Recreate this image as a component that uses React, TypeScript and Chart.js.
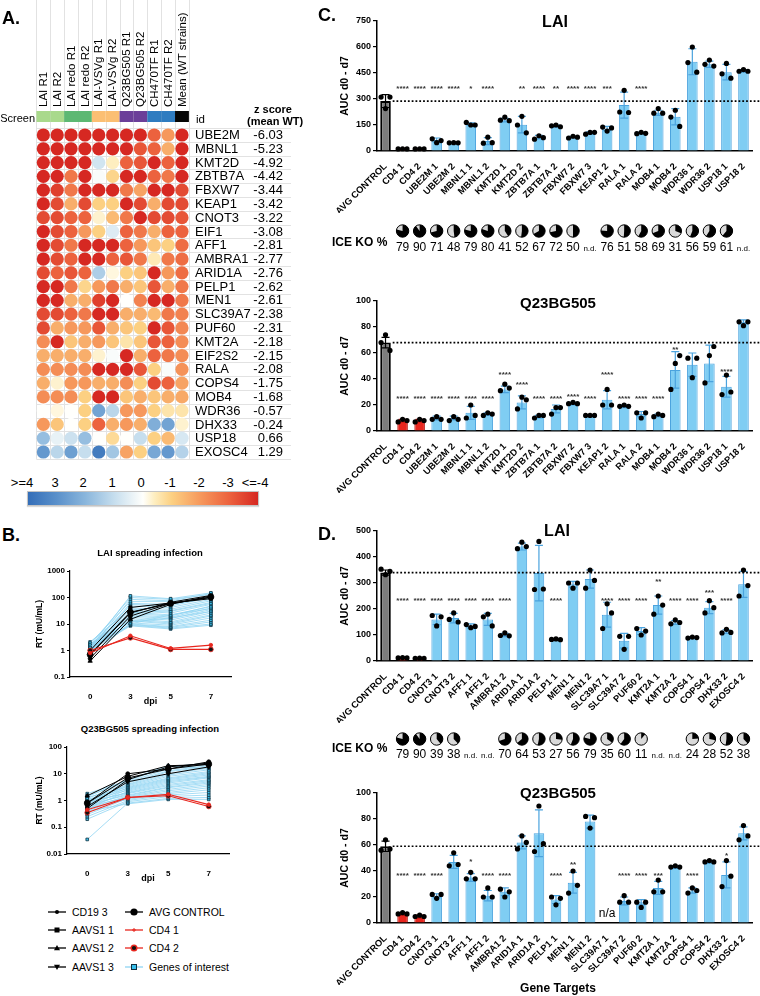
import React, { useEffect, useRef } from 'react';
import { Chart, registerables } from 'chart.js';

Chart.register(...registerables);
const FONT = '"Liberation Sans", Arial, Helvetica, sans-serif';
Chart.defaults.font.family = FONT;
Chart.defaults.color = '#000';

// ---------------- Panel A data ----------------
const HM_COLUMNS = ['LAI R1', 'LAI R2', 'LAI redo R1', 'LAI redo R2', 'LAI-VSVg R1', 'LAI-VSVg R2', 'Q23BG505 R1', 'Q23BG505 R2', 'CH470TF R1', 'CH470TF R2', 'Mean (WT strains)'];
const HM_GENES = ['UBE2M', 'MBNL1', 'KMT2D', 'ZBTB7A', 'FBXW7', 'KEAP1', 'CNOT3', 'EIF1', 'AFF1', 'AMBRA1', 'ARID1A', 'PELP1', 'MEN1', 'SLC39A7', 'PUF60', 'KMT2A', 'EIF2S2', 'RALA', 'COPS4', 'MOB4', 'WDR36', 'DHX33', 'USP18', 'EXOSC4'];
const HM_ZSCORE = [-6.03, -5.23, -4.92, -4.42, -3.44, -3.42, -3.22, -3.08, -2.81, -2.77, -2.76, -2.62, -2.61, -2.38, -2.31, -2.18, -2.15, -2.08, -1.75, -1.68, -0.57, -0.24, 0.66, 1.29];
const HM_Z = [
  [-4, -4, -4, -4, -4, -4, -4, -4, -3, -2, -4],
  [-4, -4, -4, -4, -4, -4, -4, -3.2, -3, -1.6, -4],
  [-4, -4, -4, -4, 0.8, -0.4, -3, -3.2, -4, -3, -4],
  [-4, -4, -2.6, -4, 0.1, -0.9, -4, -4, -3, -2.6, -4],
  [-4, -3.6, -2.6, -4, -4, -4, -2.6, -1.8, -4, -4, -3.4],
  [-4, -3.4, -1.6, -3.4, -1, -1, -4, -3.4, -1.6, -3.4, -3.4],
  [-3.4, -3.4, -3, -3, -0.3, -1.4, -2.6, -4, -3.4, -3.4, -3.2],
  [-4, -3.4, -3, -2, -1, 0.6, -3, -2.6, -1.6, -3, -3],
  [-4, -3.4, -2.6, -4, -4, -4, -3, -2, -1.2, -1, -2.8],
  [-4, -3.4, -3, -4, -4, -3, -3.2, -2.6, -0.5, -2.6, -2.8],
  [-3.4, -3, -3.2, -3, 1.4, -0.2, -1, -1.2, -4, -2, -2.8],
  [-4, -4, -2.6, -0.9, -2, -2.6, -1.6, -1.2, -3.2, -1.6, -2.6],
  [-4, -4, -1.6, -1.6, -3.6, -4, 0, -2.4, -4, -4, -2.6],
  [-3.4, -3.4, -3, -2.6, -4, -4, -1.6, -1.6, -1.4, -2.6, -2.4],
  [-3.4, -1.6, -2, -2, -3.2, -1.6, -1.2, -1, -4, -3.2, -2.3],
  [-2.2, -4, -1.2, -1.6, -2, -1.2, -0.6, -1.2, -3.2, -3, -2.2],
  [-1.6, -1.6, -1.6, -1.6, -0.3, 0.1, -4, -1.6, -3, -2.6, -2.2],
  [-2.2, -2.2, -2.2, -2.2, -4, -4, -4, -3.2, -1, 0.1, -2.1],
  [-1.6, -0.3, -2, -2, -1.6, -1.6, -2.2, -1, -3.4, -3, -1.8],
  [-2.2, -2.2, -2.2, -1, -4, -4, -1.2, -1.6, -1.2, -1.6, -1.7],
  [0, -0.2, 0, -1, 2.5, 1.2, -2, -2, -1, -0.6, -0.6],
  [-2, -1.2, 0, -1, -3, -1.6, -2, -1.6, 2.2, 2.5, -0.3],
  [1.8, 0.4, 0.9, 1.8, 0, -0.8, 0, 1, -1, -1.4, 0.7],
  [2.8, 1.2, 2.6, 1, 3.6, 1.6, -1.8, -1, 2.4, 2.8, 1.3],
];
const CBAR_LABELS = ['>=4', '3', '2', '1', '0', '-1', '-2', '-3', '<=-4'];

// ---------------- Panel B data ----------------
const B_DAYS = ['0', '3', '5', '7'];
const LAI_CD19_3 = [0.5, 20, 60, 100];
const LAI_AAVS1_1 = [1.0, 42, 62, 90];
const LAI_AAVS1_2 = [0.4, 15, 55, 115];
const LAI_AAVS1_3 = [0.7, 26, 66, 120];
const LAI_AVG_CONTROL = [0.7, 28, 60, 105];
const LAI_CD4_1 = [0.8, 3.6, 1.2, 1.6];
const LAI_CD4_2 = [1.0, 3.0, 1.1, 1.1];
const LAI_GENES = [
  [1.3, 115, 90, 150], [1.6, 100, 85, 130], [1.1, 85, 75, 140], [1.9, 70, 70, 110], [1.2, 60, 55, 95],
  [0.9, 55, 48, 100], [1.5, 48, 42, 85], [1.0, 40, 36, 75], [2.1, 36, 30, 60], [1.4, 32, 26, 55],
  [0.8, 28, 22, 45], [1.7, 25, 20, 48], [1.2, 22, 18, 40], [1.0, 20, 16, 35], [1.5, 18, 14, 30],
  [0.9, 16, 12, 26], [1.3, 14, 11, 22], [1.1, 13, 10, 20], [1.8, 11, 9, 17], [0.7, 10, 8, 14],
  [1.4, 9.5, 7.5, 12], [1.2, 9, 7, 10], [1.0, 8.5, 6.5, 9], [1.6, 12, 17, 30], [1.3, 26, 32, 65],
  [1.1, 10, 22, 38],
];
const Q23_CD19_3 = [0.8, 10, 15, 28];
const Q23_AAVS1_1 = [0.5, 6, 18, 25];
const Q23_AAVS1_2 = [1.5, 8, 20, 22];
const Q23_AAVS1_3 = [0.6, 5, 10, 18];
const Q23_AVG_CONTROL = [0.8, 7, 15, 23];
const Q23_CD4_1 = [0.45, 1.3, 1.7, 0.7];
const Q23_CD4_2 = [0.35, 1.3, 1.5, 0.6];
const Q23_GENES = [
  [1.8, 5.5, 18, 25], [1.5, 5, 15, 22], [1.2, 4.5, 13, 20], [1.0, 4, 12, 18], [0.9, 3.8, 10, 16],
  [0.8, 3.5, 9, 14], [1.3, 3.2, 8, 12], [0.7, 3, 7, 11], [1.1, 2.8, 6.5, 10], [0.6, 2.6, 6, 9],
  [1.0, 2.4, 5.5, 8], [0.5, 2.2, 5, 7.5], [0.8, 2.0, 4.5, 7], [0.9, 1.9, 4, 6], [0.6, 1.8, 3.6, 5.5],
  [0.7, 1.6, 3.2, 5], [0.5, 1.5, 3, 4.5], [0.4, 1.4, 2.6, 4], [0.6, 1.3, 2.3, 3.5], [0.3, 1.2, 2, 3],
  [0.5, 1.1, 1.8, 2.5], [0.25, 1.0, 1.6, 2], [0.2, 0.9, 1.4, 1.6], [0.035, 0.8, 1.2, 1.3], [0.4, 0.75, 1.1, 1.1],
  [1.4, 6, 20, 15],
];

// ---------------- Panel C data ----------------
const C_LABELS = ['AVG CONTROL', 'CD4 1', 'CD4 2', 'UBE2M 1', 'UBE2M 2', 'MBNL1 1', 'MBNL1 2', 'KMT2D 1', 'KMT2D 2', 'ZBTB7A 1', 'ZBTB7A 2', 'FBXW7 2', 'FBXW7 3', 'KEAP1 2', 'RALA 1', 'RALA 2', 'MOB4 1', 'MOB4 2', 'WDR36 1', 'WDR36 2', 'USP18 1', 'USP18 2'];
const C_ICE = [null, 79, 90, 71, 48, 79, 80, 41, 52, 67, 72, 50, 'n.d.', 76, 51, 58, 69, 31, 56, 59, 61, 'n.d.'];
const C_LAI_MEAN = [288, 12, 12, 63, 48, 155, 57, 178, 152, 80, 143, 80, 105, 130, 265, 103, 220, 198, 515, 500, 455, 462];
const C_LAI_REP1 = [311, 12, 12, 70, 47, 165, 45, 178, 150, 68, 145, 75, 97, 138, 225, 100, 218, 196, 510, 500, 445, 460];
const C_LAI_REP2 = [245, 13, 13, 48, 48, 150, 80, 195, 200, 88, 150, 85, 107, 115, 350, 108, 245, 235, 600, 525, 505, 470];
const C_LAI_REP3 = [311, 12, 12, 60, 47, 150, 48, 175, 105, 77, 140, 80, 108, 133, 222, 102, 218, 142, 455, 490, 420, 460];
const C_LAI_SD = [37, 2, 2, 12, 2, 8, 20, 10, 48, 10, 6, 5, 6, 12, 75, 4, 15, 47, 75, 18, 45, 7];
const C_LAI_STARS = ['', '****', '****', '****', '****', '*', '****', '', '**', '****', '**', '****', '****', '***', '', '****', '', '', '', '', '', ''];
const C_LAI_STAR_Y = [0, 368, 368, 368, 368, 368, 368, 0, 368, 368, 368, 368, 368, 368, 0, 368, 0, 0, 0, 0, 0, 0];

const C_Q23_MEAN = [68, 8, 8, 10, 10, 14, 13, 32, 22, 11, 17, 21, 12, 24, 19, 13, 12, 47, 51, 52, 34, 84];
const C_Q23_REP1 = [68, 7, 7, 9, 8, 10, 12, 31, 17, 10, 13, 21, 12, 20, 19, 14, 11, 32, 56, 37, 28, 84];
const C_Q23_REP2 = [74, 9, 9, 11, 11, 20, 14, 36, 26, 12, 18, 22, 12, 32, 20, 10, 13, 52, 41, 58, 43, 81];
const C_Q23_REP3 = [62, 8, 8, 9, 9, 12, 13, 33, 24, 12, 18, 21, 12, 20, 19, 14, 12, 58, 56, 65, 30, 84];
const C_Q23_SD = [4, 1, 1, 1.5, 1.5, 5, 1, 2.5, 5, 1, 3, 1, 0.5, 7, 1, 2, 1, 14, 9, 14, 8, 1.5];
const C_Q23_STARS = ['', '****', '****', '****', '****', '****', '****', '****', '****', '****', '****', '****', '****', '****', '****', '****', '****', '**', '', '', '****', ''];
const C_Q23_STAR_Y = [0, 26, 26, 26, 26, 26, 26, 45, 37, 26, 26, 28, 26, 45, 26, 26, 26, 64, 0, 0, 47, 0];

// ---------------- Panel D data ----------------
const D_LABELS = ['AVG CONTROL', 'CD4 1', 'CD4 2', 'CNOT3 1', 'CNOT3 2', 'AFF1 1', 'AFF1 2', 'AMBRA1 2', 'ARID1A 1', 'ARID1A 2', 'PELP1 1', 'MEN1 1', 'MEN1 2', 'SLC39A7 1', 'SLC39A7 2', 'PUF60 2', 'KMT2A 1', 'KMT2A 2', 'COPS4 1', 'COPS4 2', 'DHX33 2', 'EXOSC4 2'];
const D_ICE = [null, 79, 90, 39, 38, 'n.d.', 'n.d.', 70, 64, 53, 27, 56, 79, 35, 60, 11, 'n.d.', 'n.d.', 24, 28, 52, 38];
const D_LAI_MEAN = [340, 12, 10, 160, 165, 135, 160, 100, 440, 338, 83, 295, 315, 178, 78, 115, 215, 148, 90, 205, 113, 295];
const D_LAI_REP1 = [353, 12, 10, 175, 160, 140, 170, 98, 432, 275, 83, 300, 280, 125, 95, 125, 180, 143, 88, 185, 108, 250];
const D_LAI_REP2 = [332, 13, 11, 135, 185, 128, 180, 108, 457, 460, 85, 280, 350, 220, 45, 100, 250, 158, 92, 232, 122, 350];
const D_LAI_REP3 = [345, 12, 10, 170, 150, 133, 135, 97, 440, 277, 82, 300, 310, 185, 95, 115, 215, 148, 90, 205, 110, 290];
const D_LAI_SD = [10, 1, 1, 20, 18, 8, 23, 6, 13, 107, 2, 11, 35, 48, 28, 13, 35, 7, 2, 23, 7, 50];
const D_LAI_STARS = ['', '****', '****', '****', '****', '****', '****', '****', '', '', '****', '', '', '****', '****', '****', '**', '****', '****', '***', '****', ''];
const D_LAI_STAR_Y = [0, 238, 238, 238, 238, 238, 238, 238, 0, 0, 238, 0, 0, 238, 238, 238, 313, 238, 238, 270, 238, 0];

const D_Q23_MEAN = [59, 7, 5, 21, 47, 35, 21, 24, 62, 69, 18, 31, 78, null, 17, 16, 27, 43, 25, 47, 37, 69];
const D_Q23_REP1 = [56, 7, 5, 22, 44, 34, 20, 26, 57, 55, 20, 23, 82, null, 16, 16, 24, 43, 23, 47, 28, 64];
const D_Q23_REP2 = [64, 8, 6, 19, 54, 39, 27, 20, 67, 90, 14, 40, 73, null, 21, 12, 33, 44, 27, 48, 48, 75];
const D_Q23_REP3 = [57, 7, 5, 22, 45, 34, 20, 24, 62, 61, 19, 29, 81, null, 16, 16, 24, 43, 25, 47, 36, 67];
const D_Q23_SD = [4, 1, 1, 1.5, 5, 3, 4, 3, 5, 18, 3, 8, 5, 0, 3, 2, 5, 1, 2, 1, 10, 5];
const D_Q23_STARS = ['', '****', '****', '****', '', '*', '****', '****', '', '', '****', '**', '', 'n/a', '****', '****', '***', '', '****', '', '*', ''];
const D_Q23_STAR_Y = [0, 38, 38, 38, 0, 49, 38, 38, 0, 0, 38, 46, 0, 7.5, 38, 38, 38, 0, 38, 0, 53, 0];

// ---------------- helpers ----------------
const Z_STOPS: any[] = [
  [-4, [214, 40, 34]], [-3, [236, 98, 62]], [-2, [246, 152, 92]], [-1, [252, 208, 130]],
  [-0.4, [254, 238, 192]], [0, [255, 255, 252]], [1, [198, 222, 238]], [2, [138, 182, 220]],
  [3, [90, 144, 202]], [4, [52, 110, 184]],
];
function zColor(z: number) {
  const v = Math.max(-4, Math.min(4, z));
  for (let i = 0; i < Z_STOPS.length - 1; i++) {
    const [a, ca] = Z_STOPS[i];
    const [b, cb] = Z_STOPS[i + 1];
    if (v >= a && v <= b) {
      const t = (v - a) / (b - a);
      const c = ca.map((x: number, k: number) => Math.round(x + (cb[k] - x) * t));
      return `rgb(${c[0]},${c[1]},${c[2]})`;
    }
  }
  return '#fff';
}
const CBAR_GRADIENT = 'linear-gradient(to right,' + Z_STOPS.slice().reverse().map((s: any) => `${zColor(s[0])} ${((4 - s[0]) / 8) * 100}%`).join(',') + ')';
const SCREEN_COLORS = ['#a9d98c', '#a9d98c', '#5db873', '#5db873', '#fbbf73', '#fbbf73', '#6b3f99', '#6b3f99', '#2f7cc0', '#2f7cc0', '#050505'];

function ChartBox({ left, top, width, height, build }: any) {
  const ref = useRef<HTMLCanvasElement>(null);
  useEffect(() => {
    const chart = build(ref.current);
    return () => chart.destroy();
  }, []);
  return <canvas ref={ref} width={width} height={height} style={{ position: 'absolute', left, top, width, height }} />;
}

function T({ x, y, size = 11, bold = false, align = 'left', children }: any) {
  const tx = align === 'center' ? '-50%' : align === 'right' ? '-100%' : '0';
  return (
    <div style={{ position: 'absolute', left: x, top: y, transform: `translate(${tx},-50%)`, fontSize: size, fontWeight: bold ? 700 : 400, whiteSpace: 'nowrap', lineHeight: 1, fontFamily: FONT, color: '#000' }}>
      {children}
    </div>
  );
}

// ---------------- heatmap ----------------
function buildHeatmap(canvas: HTMLCanvasElement) {
  const W = 300, H = 465;
  const pts: any[] = [];
  const cols: string[] = [];
  HM_Z.forEach((row, r) => row.forEach((v, c) => { pts.push({ x: c, y: r }); cols.push(zColor(v)); }));
  const plugin = {
    id: 'hm',
    beforeDatasetsDraw(chart: any) {
      const { ctx, chartArea: a, scales } = chart;
      const x = scales.x, y = scales.y;
      ctx.save();
      ctx.strokeStyle = '#e2e2e2';
      ctx.lineWidth = 1;
      for (let c = 0; c <= HM_COLUMNS.length; c++) {
        const px = Math.round(x.getPixelForValue(c - 0.5)) + 0.5;
        ctx.beginPath(); ctx.moveTo(px, 0); ctx.lineTo(px, a.bottom); ctx.stroke();
      }
      for (let r = 0; r <= HM_GENES.length; r++) {
        const py = Math.round(y.getPixelForValue(r - 0.5)) + 0.5;
        ctx.beginPath(); ctx.moveTo(a.left, py); ctx.lineTo(291, py); ctx.stroke();
      }
      HM_COLUMNS.forEach((_, c) => {
        const x0 = x.getPixelForValue(c - 0.5), x1 = x.getPixelForValue(c + 0.5);
        ctx.fillStyle = SCREEN_COLORS[c];
        ctx.fillRect(x0, 111, x1 - x0, 11);
      });
      ctx.fillStyle = '#000';
      ctx.font = `11.5px ${FONT}`;
      ctx.textBaseline = 'middle';
      ctx.textAlign = 'left';
      HM_COLUMNS.forEach((t, c) => {
        ctx.save();
        ctx.translate(x.getPixelForValue(c) + 0.5, 107);
        ctx.rotate(-Math.PI / 2);
        ctx.fillText(t, 0, 0);
        ctx.restore();
      });
      ctx.restore();
    },
    afterDraw(chart: any) {
      const { ctx, scales } = chart;
      const y = scales.y;
      ctx.save();
      ctx.fillStyle = '#000';
      ctx.font = `13px ${FONT}`;
      ctx.textBaseline = 'middle';
      HM_GENES.forEach((g, r) => {
        const py = y.getPixelForValue(r);
        ctx.textAlign = 'left';
        ctx.fillText(g, 195, py + 0.5);
        ctx.textAlign = 'right';
        ctx.fillText(HM_ZSCORE[r].toFixed(2), 283, py + 0.5);
      });
      ctx.restore();
    },
  };
  return new Chart(canvas, {
    type: 'scatter',
    data: { datasets: [{ data: pts, pointRadius: 6.6, pointHoverRadius: 6.6, backgroundColor: cols, borderWidth: 0, clip: false } as any] },
    options: {
      animation: false, responsive: false, events: [],
      layout: { autoPadding: false, padding: { left: 36.4, right: W - 188.9, top: 128.1, bottom: H - 458.9 } },
      scales: {
        x: { type: 'linear', display: false, min: -0.5, max: 10.5 },
        y: { type: 'linear', display: false, min: -0.5, max: 23.5, reverse: true },
      },
      plugins: { legend: { display: false }, tooltip: { enabled: false } },
    } as any,
    plugins: [plugin],
  });
}

// ---------------- spreading infection lines ----------------
function lineDs(data: number[], color: string, width: number, style: string, r: number, bg: string, border: string, rot = 0) {
  return { data, borderColor: color, borderWidth: width, pointStyle: style, pointRadius: r, pointHoverRadius: r, pointBackgroundColor: bg, pointBorderColor: border, pointBorderWidth: 0.8, pointRotation: rot, clip: false, tension: 0, fill: false };
}
function buildSpread(canvas: HTMLCanvasElement, spec: any) {
  const { W, H, left, right, top, bottom, min, max, ticks, controls, cd4, genes } = spec;
  const padL = 31;
  const datasets: any[] = [];
  datasets.push(lineDs(cd4[0], '#e8261e', 1.1, 'circle', 1.8, '#e8261e', '#e8261e'));
  datasets.push(lineDs(cd4[1], '#e8261e', 1.1, 'circle', 2.4, '#111', '#e8261e'));
  datasets.push(lineDs(controls[4], '#000', 1.1, 'circle', 3, '#000', '#000'));
  datasets.push(lineDs(controls[0], '#000', 1, 'circle', 2, '#000', '#000'));
  datasets.push(lineDs(controls[1], '#000', 1, 'rect', 2.2, '#000', '#000'));
  datasets.push(lineDs(controls[2], '#000', 1, 'triangle', 2.5, '#000', '#000'));
  datasets.push(lineDs(controls[3], '#000', 1, 'triangle', 2.5, '#000', '#000', 180));
  genes.forEach((g: number[]) => datasets.push(lineDs(g, '#8fd4f3', 0.8, 'rect', 1.9, '#38c0ec', '#10303f')));
  return new Chart(canvas, {
    type: 'line',
    data: { labels: B_DAYS, datasets },
    options: {
      animation: false, responsive: false, events: [],
      layout: { autoPadding: false, padding: { left: padL, right: W - right, top, bottom: H - bottom - 30 } },
      scales: {
        x: {
          type: 'category', offset: true, grid: { display: false },
          border: { display: true, color: '#000', width: 1.2 },
          ticks: { font: { size: 8, weight: 'bold' }, color: '#000', padding: 7 },
          title: { display: true, text: 'dpi', font: { size: 9, weight: 'bold' }, color: '#000', padding: 0 },
          afterFit: (s: any) => { s.height = 30; },
        },
        y: {
          type: 'logarithmic', min, max,
          afterBuildTicks: (s: any) => { s.ticks = ticks.map((v: number) => ({ value: v })); },
          ticks: { callback: (v: any) => String(v), font: { size: 8, weight: 'bold' }, color: '#000', padding: 2 },
          grid: { drawOnChartArea: false, tickLength: 3, color: '#000' },
          border: { display: true, color: '#000', width: 1.2 },
          title: { display: true, text: 'RT (mU/mL)', font: { size: 8.5, weight: 'bold' }, color: '#000' },
          afterFit: (s: any) => { s.width = left - padL; },
        },
      },
      plugins: { legend: { display: false }, tooltip: { enabled: false } },
    } as any,
  });
}

// ---------------- bar charts ----------------
function buildBars(canvas: HTMLCanvasElement, spec: any) {
  const { labels, means, reps, sd, stars, starY, yMax, yStep, ice, W, H, top, bottom, pieY, numY } = spec;
  const n = labels.length;
  const AREA_LEFT = 77, AREA_RIGHT = 452, PAD_L = 35, X_H = 62;
  const fill = labels.map((l: string, i: number) => (i === 0 ? '#7d7d7d' : l.startsWith('CD4') ? '#e8261e' : '#7fcdf3'));
  const edge = labels.map((l: string, i: number) => (i === 0 ? '#000' : l.startsWith('CD4') ? '#b3120c' : '#4ba3de'));
  const barPts: any[] = [];
  const barFill: string[] = [];
  const barEdge: string[] = [];
  const barBW: number[] = [];
  means.forEach((m: any, i: number) => {
    if (m == null) return;
    barPts.push({ x: i, y: m });
    barFill.push(fill[i]); barEdge.push(edge[i]); barBW.push(i === 0 ? 2 : 1);
  });
  const offs = [-0.26, 0, 0.26];
  const dots: any[] = [];
  reps.forEach((rep: any[], k: number) => rep.forEach((v: any, i: number) => { if (v != null) dots.push({ x: i + offs[k], y: v }); }));
  const plugin = {
    id: 'extras',
    afterDatasetDraw(chart: any, args: any) {
      if (args.index !== 0) return;
      const { ctx, scales } = chart;
      const x = scales.x, y = scales.y;
      ctx.save();
      ctx.lineWidth = 1.2;
      means.forEach((m: any, i: number) => {
        if (m == null || !sd[i]) return;
        const px = x.getPixelForValue(i);
        const y1 = y.getPixelForValue(m + sd[i]);
        const y0 = y.getPixelForValue(Math.max(0, m - sd[i]));
        ctx.strokeStyle = edge[i];
        ctx.beginPath();
        ctx.moveTo(px, y0); ctx.lineTo(px, y1);
        ctx.moveTo(px - 4, y1); ctx.lineTo(px + 4, y1);
        ctx.moveTo(px - 4, y0); ctx.lineTo(px + 4, y0);
        ctx.stroke();
      });
      ctx.restore();
    },
    afterDatasetsDraw(chart: any) {
      const { ctx, scales } = chart;
      const x = scales.x, y = scales.y;
      ctx.save();
      const ly = y.getPixelForValue(means[0]);
      ctx.strokeStyle = '#000';
      ctx.lineWidth = 1.6;
      ctx.setLineDash([1.8, 2]);
      ctx.beginPath(); ctx.moveTo(x.getPixelForValue(0.42), ly); ctx.lineTo(W, ly); ctx.stroke();
      ctx.setLineDash([]);
      ctx.textAlign = 'center';
      ctx.textBaseline = 'middle';
      stars.forEach((s: string, i: number) => {
        if (!s) return;
        const px = x.getPixelForValue(i);
        if (s === 'n/a') {
          ctx.fillStyle = '#000';
          ctx.font = `12px ${FONT}`;
          ctx.fillText(s, px, y.getPixelForValue(starY[i]));
        } else {
          ctx.fillStyle = '#333';
          ctx.font = `bold 8px ${FONT}`;
          ctx.fillText(s, px, y.getPixelForValue(starY[i]) + 2);
        }
      });
      if (ice) {
        ice.forEach((v: any, i: number) => {
          if (v == null) return;
          const px = x.getPixelForValue(i);
          ctx.fillStyle = '#000';
          if (typeof v === 'string') {
            ctx.font = `8px ${FONT}`;
            ctx.fillText(v, px, numY + 1);
            return;
          }
          const r = 6.2;
          ctx.beginPath(); ctx.arc(px, pieY, r, 0, Math.PI * 2); ctx.fillStyle = '#d9d9d9'; ctx.fill();
          ctx.beginPath(); ctx.moveTo(px, pieY);
          ctx.arc(px, pieY, r, -Math.PI / 2, -Math.PI / 2 + (v / 100) * Math.PI * 2);
          ctx.closePath(); ctx.fillStyle = '#000'; ctx.fill();
          ctx.beginPath(); ctx.arc(px, pieY, r, 0, Math.PI * 2); ctx.strokeStyle = '#000'; ctx.lineWidth = 1; ctx.stroke();
          ctx.fillStyle = '#000';
          ctx.font = `12px ${FONT}`;
          ctx.fillText(String(v), px, numY);
        });
      }
      ctx.restore();
    },
  };
  return new Chart(canvas, {
    type: 'bar',
    data: {
      datasets: [
        { type: 'bar', data: barPts, backgroundColor: barFill, borderColor: barEdge, borderWidth: barBW, barPercentage: 0.62, categoryPercentage: 1, order: 2 },
        { type: 'scatter', data: dots, pointRadius: 2.6, pointHoverRadius: 2.6, backgroundColor: '#000', borderWidth: 0, order: 1, clip: false },
      ],
    } as any,
    options: {
      animation: false, responsive: false, events: [],
      layout: { autoPadding: false, padding: { left: PAD_L, right: W - AREA_RIGHT, top, bottom: H - bottom - X_H } },
      scales: {
        x: {
          type: 'linear', min: -0.5, max: n - 0.5, offset: false, grid: { display: false },
          afterBuildTicks: (s: any) => { s.ticks = labels.map((_: string, i: number) => ({ value: i })); },
          border: { display: true, color: '#000', width: 1.5 },
          ticks: { autoSkip: false, maxRotation: 45, minRotation: 45, callback: (v: any) => labels[Math.round(v)] ?? '', font: { size: 9.3, weight: 'bold' }, color: '#000', padding: 2 },
          afterFit: (s: any) => { s.height = X_H; },
        },
        y: {
          type: 'linear', min: 0, max: yMax,
          ticks: { stepSize: yStep, font: { size: 9, weight: 'bold' }, color: '#000', padding: 2 },
          grid: { drawOnChartArea: false, tickLength: 4, color: '#000', lineWidth: 1.2 },
          border: { display: true, color: '#000', width: 1.5 },
          title: { display: true, text: 'AUC d0 - d7', font: { size: 10.5, weight: 'bold' }, color: '#000' },
          afterFit: (s: any) => { s.width = AREA_LEFT - PAD_L; },
        },
      },
      plugins: { legend: { display: false }, tooltip: { enabled: false } },
    } as any,
    plugins: [plugin],
  });
}

// ---------------- legend ----------------
function Marker({ kind, color }: any) {
  const cx = 9, cy = 5;
  let m: any = null;
  if (kind === 'dot') m = <circle cx={cx} cy={cy} r={2} fill="#000" />;
  if (kind === 'square') m = <rect x={cx - 2.5} y={cy - 2.5} width={5} height={5} fill="#000" />;
  if (kind === 'tri') m = <polygon points={`${cx},${cy - 3} ${cx - 3},${cy + 2.2} ${cx + 3},${cy + 2.2}`} fill="#000" />;
  if (kind === 'tridown') m = <polygon points={`${cx},${cy + 3} ${cx - 3},${cy - 2.2} ${cx + 3},${cy - 2.2}`} fill="#000" />;
  if (kind === 'bigdot') m = <circle cx={cx} cy={cy} r={3.6} fill="#000" />;
  if (kind === 'plus') m = <g stroke="#e8261e" strokeWidth={1}><line x1={cx - 2} y1={cy} x2={cx + 2} y2={cy} /><line x1={cx} y1={cy - 2} x2={cx} y2={cy + 2} /></g>;
  if (kind === 'ring') m = <circle cx={cx} cy={cy} r={2.8} fill="#111" stroke="#e8261e" strokeWidth={1.4} />;
  if (kind === 'genes') m = <rect x={cx - 2.5} y={cy - 2.5} width={5} height={5} fill="#38c0ec" stroke="#10303f" strokeWidth={1} />;
  return (
    <svg width={18} height={10} style={{ display: 'block' }}>
      <line x1={0} y1={cy} x2={18} y2={cy} stroke={color} strokeWidth={1.3} />
      {m}
    </svg>
  );
}
const LEGEND_ITEMS = [
  { label: 'CD19 3', kind: 'dot', color: '#000', col: 0, row: 0 },
  { label: 'AAVS1 1', kind: 'square', color: '#000', col: 0, row: 1 },
  { label: 'AAVS1 2', kind: 'tri', color: '#000', col: 0, row: 2 },
  { label: 'AAVS1 3', kind: 'tridown', color: '#000', col: 0, row: 3 },
  { label: 'AVG CONTROL', kind: 'bigdot', color: '#000', col: 1, row: 0 },
  { label: 'CD4 1', kind: 'plus', color: '#e8261e', col: 1, row: 1 },
  { label: 'CD4 2', kind: 'ring', color: '#e8261e', col: 1, row: 2 },
  { label: 'Genes of interest', kind: 'genes', color: '#8fd4f3', col: 1, row: 3 },
];

export default function App() {
  const rowY = [912, 930, 948, 967];
  const colX = [[48, 72], [125, 149]];
  const cbarX = [22, 55, 83, 112, 141, 170, 199, 228, 255];
  return (
    <div style={{ position: 'absolute', left: 0, top: 0, width: 760, height: 996, background: '#fff', overflow: 'hidden', fontFamily: FONT }}>
      <ChartBox left={0} top={0} width={300} height={465} build={buildHeatmap} />
      <ChartBox left={0} top={556} width={240} height={160} build={(c: any) => buildSpread(c, {
        W: 240, H: 160, left: 70, right: 231, top: 15, bottom: 121, min: 0.1, max: 1000, ticks: [0.1, 1, 10, 100, 1000],
        controls: [LAI_CD19_3, LAI_AAVS1_1, LAI_AAVS1_2, LAI_AAVS1_3, LAI_AVG_CONTROL], cd4: [LAI_CD4_1, LAI_CD4_2], genes: LAI_GENES,
      })} />
      <ChartBox left={0} top={736} width={240} height={160} build={(c: any) => buildSpread(c, {
        W: 240, H: 160, left: 67, right: 229, top: 11, bottom: 118, min: 0.01, max: 100, ticks: [0.01, 0.1, 1, 10, 100],
        controls: [Q23_CD19_3, Q23_AAVS1_1, Q23_AAVS1_2, Q23_AAVS1_3, Q23_AVG_CONTROL], cd4: [Q23_CD4_1, Q23_CD4_2], genes: Q23_GENES,
      })} />
      <ChartBox left={300} top={0} width={460} height={262} build={(c: any) => buildBars(c, {
        labels: C_LABELS, means: C_LAI_MEAN, reps: [C_LAI_REP1, C_LAI_REP2, C_LAI_REP3], sd: C_LAI_SD, stars: C_LAI_STARS, starY: C_LAI_STAR_Y,
        yMax: 750, yStep: 150, ice: C_ICE, W: 460, H: 262, top: 21, bottom: 151, pieY: 231, numY: 248,
      })} />
      <ChartBox left={300} top={262} width={460} height={238} build={(c: any) => buildBars(c, {
        labels: C_LABELS, means: C_Q23_MEAN, reps: [C_Q23_REP1, C_Q23_REP2, C_Q23_REP3], sd: C_Q23_SD, stars: C_Q23_STARS, starY: C_Q23_STAR_Y,
        yMax: 100, yStep: 20, ice: null, W: 460, H: 238, top: 39, bottom: 169,
      })} />
      <ChartBox left={300} top={500} width={460} height={270} build={(c: any) => buildBars(c, {
        labels: D_LABELS, means: D_LAI_MEAN, reps: [D_LAI_REP1, D_LAI_REP2, D_LAI_REP3], sd: D_LAI_SD, stars: D_LAI_STARS, starY: D_LAI_STAR_Y,
        yMax: 500, yStep: 100, ice: D_ICE, W: 460, H: 270, top: 31, bottom: 161, pieY: 239, numY: 255,
      })} />
      <ChartBox left={300} top={770} width={460} height={226} build={(c: any) => buildBars(c, {
        labels: D_LABELS, means: D_Q23_MEAN, reps: [D_Q23_REP1, D_Q23_REP2, D_Q23_REP3], sd: D_Q23_SD, stars: D_Q23_STARS, starY: D_Q23_STAR_Y,
        yMax: 100, yStep: 20, ice: null, W: 460, H: 226, top: 23, bottom: 153,
      })} />

      <T x={2} y={18} size={18} bold>A.</T>
      <T x={35} y={118} size={11} align="right">Screen</T>
      <T x={196} y={120} size={11.5}>id</T>
      <T x={273} y={109} size={11} bold align="center">z score</T>
      <T x={247} y={121} size={11} bold>(mean WT)</T>
      {CBAR_LABELS.map((l, i) => <T key={l} x={cbarX[i]} y={482} size={13} align="center">{l}</T>)}
      <div style={{ position: 'absolute', left: 27, top: 491, width: 230, height: 13, background: CBAR_GRADIENT, border: '1px solid #c4c4c4', boxShadow: '0 1px 1px rgba(0,0,0,0.15)' }} />

      <T x={2} y={535} size={18} bold>B.</T>
      <T x={150} y={553} size={9.5} bold align="center">LAI spreading infection</T>
      <T x={150} y={729} size={9.5} bold align="center">Q23BG505 spreading infection</T>
      {LEGEND_ITEMS.map((it) => (
        <React.Fragment key={it.label}>
          <div style={{ position: 'absolute', left: colX[it.col][0], top: rowY[it.row] - 5 }}><Marker kind={it.kind} color={it.color} /></div>
          <T x={colX[it.col][1]} y={rowY[it.row]} size={10.5}>{it.label}</T>
        </React.Fragment>
      ))}

      <T x={318} y={15} size={18} bold>C.</T>
      <T x={555} y={22} size={16} bold align="center">LAI</T>
      <T x={332} y={242} size={12} bold>ICE KO %</T>
      <T x={558} y={302} size={15} bold align="center">Q23BG505</T>
      <T x={318} y={534} size={18} bold>D.</T>
      <T x={557} y={531} size={16} bold align="center">LAI</T>
      <T x={332} y={748} size={12} bold>ICE KO %</T>
      <T x={558} y={792} size={15} bold align="center">Q23BG505</T>
      <T x={558} y={988} size={12} bold align="center">Gene Targets</T>
    </div>
  );
}
